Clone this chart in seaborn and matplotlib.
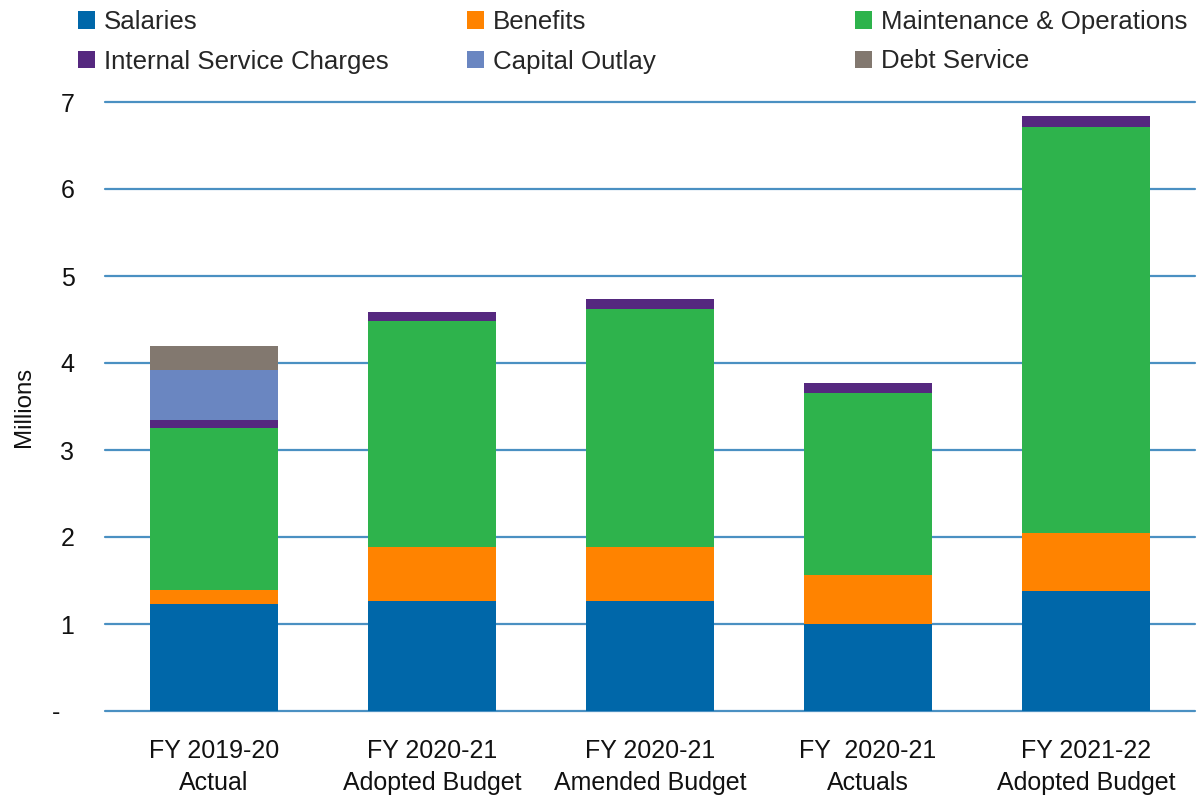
import matplotlib
matplotlib.use("Agg")
import matplotlib.pyplot as plt
from matplotlib import font_manager as fm
from matplotlib.patches import Patch
import seaborn as sns
import numpy as np
import pandas as pd

# ---- data ----
categories = ["FY 2019-20\nActual", "FY 2020-21\nAdopted Budget", "FY 2020-21\nAmended Budget",
              "FY  2020-21\nActuals", "FY 2021-22\nAdopted Budget"]
salaries = [1.23, 1.26, 1.26, 1.00, 1.38]
benefits = [0.16, 0.63, 0.63, 0.56, 0.67]
maint_ops = [1.86, 2.59, 2.73, 2.09, 4.66]
internal_service = [0.09, 0.11, 0.12, 0.12, 0.13]
capital_outlay = [0.58, 0.0, 0.0, 0.0, 0.0]
debt_service = [0.27, 0.0, 0.0, 0.0, 0.0]
series_names = ["Salaries", "Benefits", "Maintenance & Operations",
                "Internal Service Charges", "Capital Outlay", "Debt Service"]
y_ticks = [0, 1, 2, 3, 4, 5, 6, 7]
y_tick_labels = ["-  ", "1", "2", "3", "4", "5", "6", "7"]

colors = ["#0067A9", "#FF8300", "#2EB34C", "#55287F", "#6A86C1", "#82786F"]
grid_color = "#4A90C2"

sns.set_theme(style="white")
avail = {f.name for f in fm.fontManager.ttflist}
if "Liberation Sans Narrow" in avail:
    fam, sc = "Liberation Sans Narrow", 1.2
else:
    fam, sc = "Liberation Sans", 1.0
plt.rcParams["font.family"] = [fam, "DejaVu Sans"]

fig = plt.figure(figsize=(11.98, 8.10), dpi=100)
ax = fig.add_axes([105 / 1198, 99 / 810, 1090 / 1198, 609 / 810])

series = [salaries, benefits, maint_ops, internal_service, capital_outlay, debt_service]
cum = np.cumsum(np.array(series), axis=0)
df = pd.DataFrame({"cat": categories})
for i in range(len(series) - 1, -1, -1):
    d = df.copy()
    d["val"] = cum[i]
    sns.barplot(data=d, x="cat", y="val", color=colors[i], saturation=1,
                width=0.587, ax=ax, linewidth=0, zorder=3)

ax.set_xlim(-0.5, 4.5)
ax.set_ylim(0, 7)
ax.set_yticks(y_ticks)
ax.set_yticklabels(y_tick_labels)
for s in ax.spines.values():
    s.set_visible(False)
for y in y_ticks:
    ax.axhline(y, color=grid_color, lw=1.6, zorder=1, clip_on=False)
ax.tick_params(axis="both", length=0)
ax.tick_params(axis="x", pad=20, labelsize=18 * sc)
ax.tick_params(axis="y", pad=22, labelsize=18 * sc)
for t in ax.get_xticklabels():
    t.set_linespacing(1.45)
    t.set_color("#111111")
for t in ax.get_yticklabels():
    t.set_color("#111111")
ax.set_xlabel("")
ax.set_ylabel("Millions", fontsize=17.3 * sc, color="#111111")
ax.yaxis.set_label_coords(-0.064, 0.5)

handles = [Patch(facecolor=c, edgecolor="none") for c in colors]
cols = [(0, 3, 78), (1, 4, 467), (2, 5, 855)]
for a, b, xpx in cols:
    fig.legend(handles=[handles[a], handles[b]], labels=[series_names[a], series_names[b]],
               loc="upper left", bbox_to_anchor=(xpx / 1198, 1 - 10 / 810),
               frameon=False, borderpad=0, borderaxespad=0,
               prop={"size": 18.6 * sc}, handlelength=0.66, handleheight=0.66,
               handletextpad=0.35, labelspacing=0.6)

fig.savefig("out.png", dpi=100, facecolor="white")
